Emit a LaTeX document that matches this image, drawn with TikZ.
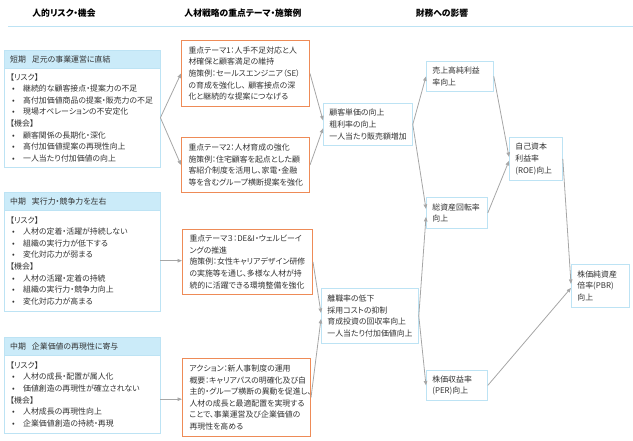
\documentclass[tikz,border=0pt]{standalone}
\usepackage{fontspec}
\setmainfont{Noto Sans CJK JP}[RawFeature={+palt}]
\usetikzlibrary{arrows.meta,positioning}

\definecolor{lblue}{HTML}{BDE3F4}
\definecolor{hblue}{HTML}{CBEBF9}
\definecolor{orng}{HTML}{EE8B57}
\definecolor{lgray}{HTML}{A6A6A6}
\definecolor{txtc}{HTML}{333333}
\newcommand{\bul}{\hspace*{2pt}\makebox[11pt][l]{•}}

\tikzset{
  every node/.style={text=txtc, font=\fontsize{7.9pt}{11.6pt}\selectfont},
  coltitle/.style={font=\fontsize{8.8pt}{10pt}\selectfont\bfseries, text=black},
  riskhead/.style={draw=lblue, fill=hblue, anchor=north west, minimum height=18pt,
    text width=144pt, inner xsep=6pt, inner ysep=0pt, align=left},
  riskbody/.style={draw=lblue, anchor=north west, text width=144pt, inner xsep=6pt,
    inner ysep=0pt, align=left},
  themebox/.style={draw=orng, line width=1pt, anchor=north west, inner xsep=7pt,
    inner ysep=0pt, align=left},
  effbox/.style={draw=lblue, line width=0.8pt, anchor=north west, inner xsep=6pt,
    inner ysep=0pt, align=left},
  link/.style={draw=lgray, line width=0.8pt, -{Triangle[length=4.5pt,width=3.5pt]}}
}

\begin{document}
\begin{tikzpicture}[x=1pt,y=-1pt]
    \useasboundingbox (0,0) rectangle (633,440);
    % column titles
    \node[coltitle] (ttlrisk) at (64,13) {人的リスク・機会};
    \node[coltitle] (ttlhr) at (243,13) {人材戦略の重点テーマ・施策例};
    \node[coltitle] (ttlfin) at (442,13) {財務への影響};
    \draw[lblue, line width=1pt] (8,26) -- (633,26);

    % risks and opportunities
    \node[riskhead] (h1) at (4,50) {短期\hspace{6pt}足元の事業運営に直結};
    \node[riskbody, minimum height=99pt] (r1) at (4,68) {【リスク】\\
      \bul 継続的な顧客接点・提案力の不足\\
      \bul 高付加価値商品の提案・販売力の不足\\
      \bul 現場オペレーションの不安定化\\
      【機会】\\
      \bul 顧客関係の長期化・深化\\
      \bul 高付加価値提案の再現性向上\\
      \bul 一人当たり付加価値の向上};
    \node[riskhead] (h2) at (4,192) {中期\hspace{6pt}実行力・競争力を左右};
    \node[riskbody, minimum height=101pt] (r2) at (4,210) {【リスク】\\
      \bul 人材の定着・活躍が持続しない\\
      \bul 組織の実行力が低下する\\
      \bul 変化対応力が弱まる\\
      【機会】\\
      \bul 人材の活躍・定着の持続\\
      \bul 組織の実行力・競争力向上\\
      \bul 変化対応力が高まる};
    \node[riskhead] (h3) at (4,337) {中期\hspace{6pt}企業価値の再現性に寄与};
    \node[riskbody, minimum height=78pt] (r3) at (4,355) {【リスク】\\
      \bul 人材の成長・配置が属人化\\
      \bul 価値創造の再現性が確立されない\\
      【機会】\\
      \bul 人材成長の再現性向上\\
      \bul 企業価値創造の持続・再現};

    % themes and measures
    \node[themebox, text width=114pt, minimum height=66pt] (t1) at (181,40)
      {重点テーマ1：人手不足対応と人\\材確保と顧客満足の維持\\
       施策例：セールスエンジニア（SE）\\の育成を強化し、 顧客接点の深\\
       化と継続的な提案につなげる};
    \node[themebox, text width=114pt, minimum height=55pt] (t2) at (181,137)
      {重点テーマ2：人材育成の強化\\施策例：住宅顧客を起点とした顧\\
       客紹介制度を活用し、家電・金融\\等を含むグループ横断提案を強化};
    \node[themebox, text width=116pt, minimum height=65pt] (t3) at (182,229)
      {重点テーマ３：DE\&I・ウェルビーイ\\ングの推進\\
       施策例：女性キャリアデザイン研修\\の実施等を通じ、多様な人材が持\\
       続的に活躍できる環境整備を強化};
    \node[themebox, text width=114pt, minimum height=78pt] (t4) at (182,358)
      {アクション：新人事制度の運用\\概要：キャリアパスの明確化及び自\\
       主的・グループ横断の異動を促進し、\\人材の成長と最適配置を実現する\\
       ことで、事業運営及び企業価値の\\再現性を高める};

    % financial impact
    \node[effbox, text width=77pt, minimum height=42pt] (a) at (323,103)
      {顧客単価の向上\\粗利率の向上\\一人当たり販売額増加};
    \node[effbox, text width=85pt, minimum height=55pt] (b) at (321,288)
      {離職率の低下\\採用コストの抑制\\育成投資の回収率向上\\一人当たり付加価値向上};
    \node[effbox, text width=55pt, minimum height=30pt] (c) at (426,61)
      {売上高純利益\\率向上};
    \node[effbox, text width=49pt, minimum height=31pt] (d) at (426,197)
      {総資産回転率\\向上};
    \node[effbox, text width=49pt, minimum height=30pt] (e) at (426,370)
      {株価収益率\\(PER)向上};
    \node[effbox, text width=41pt, minimum height=43pt] (f) at (509,137)
      {自己資本\\利益率\\(ROE)向上};
    \node[effbox, text width=46pt, minimum height=43pt] (g) at (571,264)
      {株価純資産\\倍率(PBR)\\向上};

    % connectors
    \draw[link] (r1.east) -- (t1.west);
    \draw[link] (r1.east) -- (t2.west);
    \draw[link] (r2.east) -- (r2.east -| t3.west);
    \draw[link] ([yshift=-5pt]r3.east) -- ([yshift=-5pt]r3.east -| t4.west);
    \draw[link] (t1.east) -- ([yshift=4pt]a.west);
    \draw[link] (t2.east) -- ([yshift=-4pt]a.west);
    \draw[link] (t3.east) -- ([yshift=3pt]b.west);
    \draw[link] (t4.east) -- ([yshift=-3pt]b.west);
    \draw[link] (a.east) -- (c.west);
    \draw[link] (a.east) -- ([yshift=4pt]d.west);
    \draw[link] (b.east) -- ([yshift=-4pt]d.west);
    \draw[link] (b.east) -- (e.west);
    \draw[link] (c.east) -- ([yshift=2pt]f.west);
    \draw[link] (d.east) -- ([yshift=-2pt]f.west);
    \draw[link] (f.east) -- ([yshift=2pt]g.west);
    \draw[link] (e.east) -- ([yshift=-2pt]g.west);
\end{tikzpicture}
\end{document}
